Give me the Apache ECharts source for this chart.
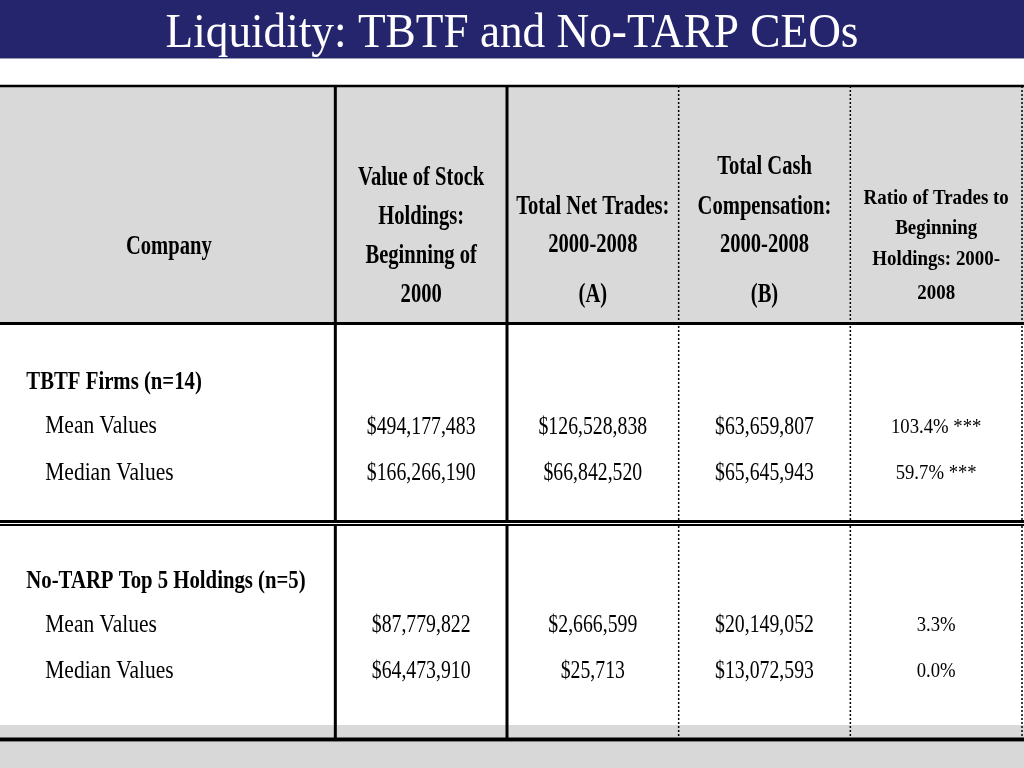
<!DOCTYPE html>
<html>
<head>
<meta charset="utf-8">
<script src="https://cdn.jsdelivr.net/npm/echarts@6/dist/echarts.min.js"></script>
<style>
html,body{margin:0;padding:0;background:#ffffff;}
#main{width:1024px;height:768px;}
</style>
</head>
<body>
<div id="main"></div>
<script>
// ------------------------------------------------------------------ data
const titleText = 'Liquidity: TBTF and No-TARP CEOs';

const columnHeaders = [
  ['Company'],
  ['Value of Stock', 'Holdings:', 'Beginning of', '2000'],
  ['Total Net Trades:', '2000-2008', '(A)'],
  ['Total Cash', 'Compensation:', '2000-2008', '(B)'],
  ['Ratio of Trades to', 'Beginning', 'Holdings: 2000-', '2008']
];

const groupNames = ['TBTF Firms (n=14)', 'No-TARP Top 5 Holdings (n=5)'];
const statNames = ['Mean Values', 'Median Values'];

// [mean, median]
const tbtfStockHoldings   = [494177483, 166266190];
const tbtfNetTrades       = [126528838, 66842520];
const tbtfCashComp        = [63659807, 65645943];
const tbtfTradeRatio      = [103.4, 59.7];
const tbtfSignificance    = ['***', '***'];

const noTarpStockHoldings = [87779822, 64473910];
const noTarpNetTrades     = [2666599, 25713];
const noTarpCashComp      = [20149052, 13072593];
const noTarpTradeRatio    = [3.3, 0.0];
const noTarpSignificance  = ['', ''];

const groupValues = [
  [tbtfStockHoldings, tbtfNetTrades, tbtfCashComp, tbtfTradeRatio],
  [noTarpStockHoldings, noTarpNetTrades, noTarpCashComp, noTarpTradeRatio]
];
const groupSignificance = [tbtfSignificance, noTarpSignificance];

// ------------------------------------------------------------------ layout (axis units)
const COL_EDGES = [0, 2, 3, 4, 5, 6];
const colCenter = i => (COL_EDGES[i] + COL_EDGES[i + 1]) / 2;
const COMPANY_X = 1.03;
const GROUP_TITLE_X = 0.2;
const STAT_LABEL_X = 0.31;
const HEADER_LINE_Y = [
  [3.404],
  [1.927, 2.762, 3.597, 4.432],
  [2.548, 3.361, 4.432],
  [1.691, 2.548, 3.361, 4.432],
  [2.376, 3.019, 3.682, 4.41]
];
const HEADER_BOTTOM = 5.085;
const GROUP_TOP = [5.085, 9.33];
const TITLE_OFFSET = 1.24;
const STAT_OFFSET = [2.18, 3.17];
const SEP_Y = [9.32, 9.40];
const STRIP_TOP = 13.68;
const TABLE_BOTTOM = 13.99;
const Y_MAX = 14;
const TEXT_NUDGE = 1.5;

const FONT = '"Liberation Serif","Times New Roman",Times,serif';
const STYLE = {
  header:     {size: 28, bold: true,  sx: 0.735},
  headerSmall:{size: 22, bold: true,  sx: 0.86},
  groupTitle: {size: 25, bold: true,  sx: 0.83},
  statLabel:  {size: 25, bold: false, sx: 0.86},
  money:      {size: 26, bold: false, sx: 0.76},
  ratio:      {size: 22, bold: false, sx: 0.85}
};

function txt(pt, text, st, align) {
  return {
    type: 'text', x: pt[0], y: pt[1] + TEXT_NUDGE, scaleX: st.sx,
    style: {
      text: text, fill: '#000000', fontFamily: FONT, fontSize: st.size,
      fontWeight: st.bold ? 'bold' : 'normal',
      align: align || 'center', verticalAlign: 'middle'
    }
  };
}

// ------------------------------------------------------------------ series data
const headerData = columnHeaders.map((lines, i) => [i === 0 ? COMPANY_X : colCenter(i), 0, i]);

const labelData = [];
groupNames.forEach((g, gi) => {
  labelData.push([GROUP_TITLE_X, GROUP_TOP[gi] + TITLE_OFFSET, gi, -1]);
  statNames.forEach((s, si) => {
    labelData.push([STAT_LABEL_X, GROUP_TOP[gi] + STAT_OFFSET[si], gi, si]);
  });
});

const valueData = [];
groupValues.forEach((cols, gi) => {
  cols.forEach((vals, ci) => {
    vals.forEach((v, si) => {
      valueData.push([colCenter(ci + 1), GROUP_TOP[gi] + STAT_OFFSET[si], v, ci, gi, si]);
    });
  });
});

function fmtMoney(v) { return '$' + Math.round(v).toLocaleString('en-US'); }

// ------------------------------------------------------------------ chart
const chart = echarts.init(document.getElementById('main'), null, {renderer: 'canvas'});

const option = {
  animation: false,
  backgroundColor: '#ffffff',
  graphic: [
    {type: 'rect', left: 0, top: 0, z: -10, shape: {width: 1024, height: 58}, style: {fill: '#25256e'}},
    {type: 'rect', left: 0, top: 58, z: -10, shape: {width: 1024, height: 1}, style: {fill: '#9a9ab4'}},
    {type: 'rect', left: 0, top: 742, z: -10, shape: {width: 1024, height: 26}, style: {fill: '#d8d8d8'}},
    {
      type: 'text', x: 512, y: 34, scaleX: 0.943, z: 10,
      style: {text: titleText, fill: '#ffffff', fontFamily: FONT, fontSize: 48,
              fontWeight: 'normal', align: 'center', verticalAlign: 'middle'}
    }
  ],
  grid: {left: -8, right: 2, top: 86, bottom: 28, outerBoundsMode: 'none', containLabel: false},
  xAxis: {type: 'value', min: 0, max: 6, show: false},
  yAxis: {type: 'value', min: 0, max: Y_MAX, inverse: true, show: false},
  series: [
    {
      name: 'frame', type: 'custom', clip: false, z: 1, silent: true,
      data: [[0, 0]],
      renderItem: function (params, api) {
        const c = (x, y) => api.coord([x, y]);
        const L = c(0, 0)[0];
        const els = [];
        const hTop = c(0, 0)[1], hBot = c(0, HEADER_BOTTOM)[1];
        els.push({type: 'rect', shape: {x: L, y: hTop, width: 1024 - L, height: hBot - hTop}, style: {fill: '#d9d9d9'}});
        const sTop = c(0, STRIP_TOP)[1], tBot = c(0, TABLE_BOTTOM)[1];
        els.push({type: 'rect', shape: {x: L, y: sTop, width: 1024 - L, height: tBot - sTop}, style: {fill: '#d9d9d9'}});
        COL_EDGES.slice(1).forEach(e => {
          const x = c(e, 0)[0];
          const solid = (e === 2 || e === 3);
          els.push({
            type: 'line',
            shape: {x1: x, y1: hTop, x2: x, y2: tBot},
            style: solid ? {stroke: '#000', lineWidth: 3}
                         : {stroke: '#000', lineWidth: 1.5, lineDash: [2, 2]}
          });
        });
        const s1 = c(0, SEP_Y[0])[1], s2 = c(0, SEP_Y[1])[1];
        els.push({type: 'rect', shape: {x: L, y: s1, width: 1024 - L, height: s2 - s1}, style: {fill: '#ffffff'}});
        const hl = (y, w) => els.push({type: 'line', shape: {x1: L, y1: y, x2: 1024, y2: y}, style: {stroke: '#000', lineWidth: w}});
        hl(hTop, 2.5);
        hl(hBot, 3);
        hl(s1, 3);
        hl(s2, 2);
        hl(tBot, 4);
        return {type: 'group', children: els};
      }
    },
    {
      name: 'headers', type: 'custom', clip: false, z: 3, silent: true,
      data: headerData,
      renderItem: function (params, api) {
        const ci = api.value(2);
        const x = api.value(0);
        const st = ci === 4 ? STYLE.headerSmall : STYLE.header;
        const children = columnHeaders[ci].map((line, li) =>
          txt(api.coord([x, HEADER_LINE_Y[ci][li]]), line, st));
        return {type: 'group', children: children};
      }
    },
    {
      name: 'rowLabels', type: 'custom', clip: false, z: 3, silent: true,
      data: labelData,
      renderItem: function (params, api) {
        const gi = api.value(2), si = api.value(3);
        const pt = api.coord([api.value(0), api.value(1)]);
        if (si < 0) return txt(pt, groupNames[gi], STYLE.groupTitle, 'left');
        return txt(pt, statNames[si], STYLE.statLabel, 'left');
      }
    },
    {
      name: 'values', type: 'custom', clip: false, z: 3, silent: true,
      data: valueData,
      renderItem: function (params, api) {
        const v = api.value(2), ci = api.value(3), gi = api.value(4), si = api.value(5);
        const pt = api.coord([api.value(0), api.value(1)]);
        if (ci === 3) {
          const sig = groupSignificance[gi][si];
          return txt(pt, v.toFixed(1) + '%' + (sig ? ' ' + sig : ''), STYLE.ratio);
        }
        return txt(pt, fmtMoney(v), STYLE.money);
      }
    }
  ]
};

chart.setOption(option);
</script>
</body>
</html>
